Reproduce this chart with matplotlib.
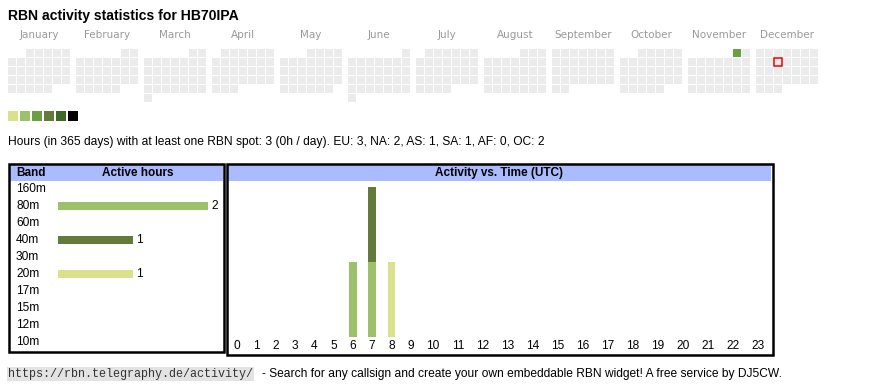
import datetime as dt
import numpy as np
import matplotlib
matplotlib.use("Agg")
import matplotlib.pyplot as plt
from matplotlib.patches import Rectangle

# ---- data ----
callsign = "HB70IPA"
year = 2025
months = ["January", "February", "March", "April", "May", "June", "July",
          "August", "September", "October", "November", "December"]
active_days = {dt.date(2025, 11, 1): 3}   # day -> colour level (1..6)
today = dt.date(2025, 12, 10)

level_colors = ["#d9e28a", "#9dc16b", "#6a9f46", "#647a3b", "#3b6b25", "#000000"]

bands = ["160m", "80m", "60m", "40m", "30m", "20m", "17m", "15m", "12m", "10m"]
band_hours = [0, 2, 0, 1, 0, 1, 0, 0, 0, 0]
band_colors = {"80m": "#9dc16b", "40m": "#647a3b", "20m": "#d9e28a"}

hours = list(range(24))
hours_80m = [0, 0, 0, 0, 0, 0, 1, 1, 0, 0, 0, 0, 0, 0, 0, 0, 0, 0, 0, 0, 0, 0, 0, 0]
hours_40m = [0, 0, 0, 0, 0, 0, 0, 1, 0, 0, 0, 0, 0, 0, 0, 0, 0, 0, 0, 0, 0, 0, 0, 0]
hours_20m = [0, 0, 0, 0, 0, 0, 0, 0, 1, 0, 0, 0, 0, 0, 0, 0, 0, 0, 0, 0, 0, 0, 0, 0]
hourly = {"80m": hours_80m, "40m": hours_40m, "20m": hours_20m}

stats = ("Hours (in 365 days) with at least one RBN spot: 3 (0h / day). "
         "EU: 3, NA: 2, AS: 1, SA: 1, AF: 0, OC: 2")
url = "https://rbn.telegraphy.de/activity/"
footer = "- Search for any callsign and create your own embeddable RBN widget! A free service by DJ5CW."

W, H = 870, 390
SANS = "Liberation Sans"
HEAD_BLUE = "#aabbff"


def frac(x0, y0, x1, y1):
    return [x0 / W, 1 - y1 / H, (x1 - x0) / W, (y1 - y0) / H]


fig = plt.figure(figsize=(W / 100, H / 100), dpi=100)
ax = fig.add_axes([0, 0, 1, 1])
ax.set_xlim(0, W)
ax.set_ylim(H, 0)
ax.axis("off")

ax.text(8, 16, "RBN activity statistics for " + callsign, fontsize=10.1,
        fontweight="bold", family=SANS, va="center", ha="left")

# calendar
cell, pitch = 7.6, 9
for m in range(12):
    x0 = 8 + 68 * m
    ax.text(x0 + 31, 35, months[m], fontsize=7.5, color="#999999",
            family="DejaVu Sans", ha="center", va="center")
    first = dt.date(year, m + 1, 1)
    d = first
    while d.month == m + 1:
        col = d.weekday()
        row = (d.day - 1 + first.weekday()) // 7
        fc = "#ebebeb"
        if d in active_days:
            fc = level_colors[active_days[d] - 1]
        ec = "#ee0000" if d == today else "none"
        ax.add_patch(Rectangle((x0 + col * pitch, 49 + row * pitch), cell, cell,
                               facecolor=fc, edgecolor=ec, lw=1.1))
        d += dt.timedelta(days=1)

for i, c in enumerate(level_colors):
    ax.add_patch(Rectangle((8 + 12 * i, 111), 10, 10, facecolor=c, edgecolor="none"))

ax.text(8, 142, stats, fontsize=8.65, family=SANS, va="center", ha="left")

# boxes and headers
ax.add_patch(Rectangle((10, 165), 213.5, 16, facecolor=HEAD_BLUE, edgecolor="none"))
ax.add_patch(Rectangle((228, 165), 543.5, 16, facecolor=HEAD_BLUE, edgecolor="none"))
ax.add_patch(Rectangle((9.2, 164), 215.2, 188, facecolor="none", edgecolor="black", lw=1.8))
ax.add_patch(Rectangle((226.8, 164), 545.8, 190.5, facecolor="none", edgecolor="black", lw=1.8))
ax.text(16, 173, "Band", fontsize=8.5, fontweight="bold", family=SANS, va="center")
ax.text(138, 173, "Active hours", fontsize=8.5, fontweight="bold", family=SANS,
        va="center", ha="center")
ax.text(499, 173, "Activity vs. Time (UTC)", fontsize=8.5, fontweight="bold",
        family=SANS, va="center", ha="center")

# band bars
bx = fig.add_axes(frac(11, 181, 222, 350))
bx.set_xlim((11 - 58) / 75, (222 - 58) / 75)
bx.set_ylim((350 - 189) / 17, (181 - 189) / 17)
bx.axis("off")
bx.patch.set_alpha(0)
ypos = np.arange(len(bands))
colors = [band_colors.get(b, "#999999") for b in bands]
bx.barh(ypos, band_hours, height=0.42, color=colors)
for y, b, v in zip(ypos, bands, band_hours):
    bx.text((16 - 58) / 75, y, b, fontsize=8.6, family=SANS, va="center", ha="left")
    if v > 0:
        bx.text(v + 0.045, y, str(v), fontsize=8.6, family=SANS, va="center", ha="left")

# activity vs time
hx = fig.add_axes(frac(229, 181, 771, 352))
hx.set_xlim(229, 771)
hx.set_ylim((337 - 352) / 75, (337 - 181) / 75)
hx.axis("off")
hx.patch.set_alpha(0)
col_w = np.array([19.3 if h < 10 else 25.0 for h in hours])
centers = 227.4 + np.cumsum(col_w) - col_w / 2
bottom = np.zeros(24)
for b in bands:
    if b in hourly:
        vals = np.array(hourly[b])
        hx.bar(centers, vals, width=7.8, bottom=bottom, color=band_colors[b])
        bottom += vals
for c, h in zip(centers, hours):
    hx.text(c, (337 - 346) / 75, str(h), fontsize=8.6, family=SANS,
            ha="center", va="center")

# footer
ax.text(8.3, 374, url, fontsize=8.45, family="Liberation Mono", color="#333333",
        va="center", ha="left",
        bbox=dict(boxstyle="square,pad=0.08", facecolor="#e3e3e3", edgecolor="none"))
ax.text(262, 374, footer, fontsize=8.67, family=SANS, va="center", ha="left")

fig.savefig("out.png", dpi=100)
